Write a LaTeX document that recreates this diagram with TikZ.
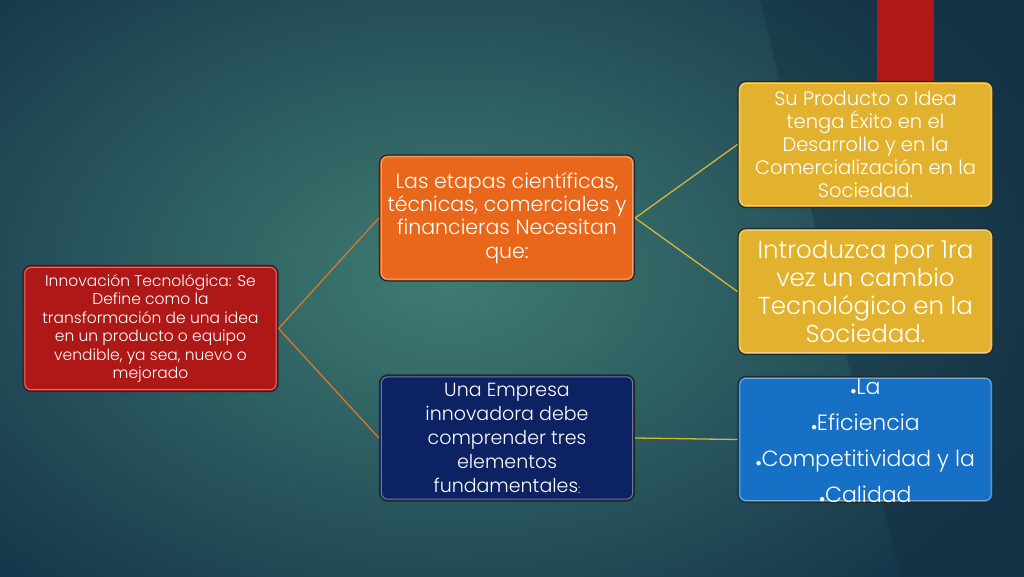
\documentclass[tikz,border=0pt]{standalone}
\usepackage{fontspec}
\setmainfont{Poppins}[UprightFont={* Light}]
\definecolor{bgin}{HTML}{3F7C72}
\definecolor{bgout}{HTML}{15354A}
\definecolor{cred}{HTML}{AE1817}
\definecolor{corange}{HTML}{E8671B}
\definecolor{cnavy}{HTML}{0D2263}
\definecolor{cyellow}{HTML}{E2B22E}
\definecolor{cblue}{HTML}{1570C6}
\definecolor{lorange}{HTML}{D9782A}
\definecolor{lyellow}{HTML}{D8B43A}
\definecolor{cborder}{HTML}{1E2A2C}
\tikzset{
  box/.style={draw=cborder, line width=1.2pt, rounded corners=8pt, minimum width=255pt, minimum height=126pt, inner sep=2pt, text=white, align=center},
  glow/.style={draw=white, opacity=0.4, line width=1pt, rounded corners=6pt},
  olink/.style={draw=lorange, line width=1.3pt},
  ylink/.style={draw=lyellow, line width=1.3pt}
}
\newcommand{\mybul}{\raisebox{0.05ex}{\scalebox{0.55}{$\bullet$}}}
\begin{document}
\begin{tikzpicture}[x=1pt,y=-1pt]
\useasboundingbox (0,0) rectangle (1024,576);
\shade[inner color=bgin, outer color=bgout] (-200,-150) rectangle (1100,700);
\fill[bgout!80!black, opacity=0.35] (1024,0) -- (1024,576) -- (900,576) -- (760,0) -- cycle;
\fill[cred] (877,0) rectangle (934,82);

\node[box, fill=cred, font=\fontsize{15.5}{18.5}\selectfont] (root) at (150.5,328.5)
  {Innovación Tecnológica: Se\\Define como la\\transformación de una idea\\en un producto o equipo\\vendible, ya sea, nuevo o\\mejorado};
\node[box, fill=corange, font=\fontsize{20.5}{23.3}\selectfont] (etapas) at (507,218)
  {Las etapas científicas,\\técnicas, comerciales y\\financieras Necesitan\\que:};
\node[box, fill=cnavy, font=\fontsize{19}{24}\selectfont] (empresa) at (507,438)
  {Una Empresa\\innovadora debe\\comprender tres\\elementos\\fundamentales\raisebox{-0.1ex}{\fontsize{12}{12}\selectfont :}};
\node[box, fill=cyellow, font=\fontsize{19.5}{23}\selectfont] (exito) at (865.5,144.5)
  {Su Producto o Idea\\tenga Éxito en el\\Desarrollo y en la\\Comercialización en la\\Sociedad.};
\node[box, fill=cyellow, font=\fontsize{24.5}{28}\selectfont] (cambio) at (865.5,291.5)
  {Introduzca por 1ra\\vez un cambio\\Tecnológico en la\\Sociedad.};
\node[box, fill=cblue] (elem) at (865.5,439.5) {};
\begin{scope}
  \clip[rounded corners=8pt] (elem.north west) rectangle (elem.south east);
  \node[text=white, align=center, font=\fontsize{22}{36}\selectfont, anchor=center] (elemtxt) at (865.5,441)
    {\mybul La\\\mybul Eficiencia\\\mybul Competitividad y la\\\mybul Calidad};
\end{scope}

\foreach \n in {root,etapas,empresa,exito,cambio,elem}{
  \draw[glow] ([shift={(2.5,2.5)}]\n.north west) rectangle ([shift={(-2.5,-2.5)}]\n.south east);
}

\draw[olink] (root.east) -- (etapas.west);
\draw[olink] (root.east) -- (empresa.west);
\draw[ylink] (etapas.east) -- (exito.west);
\draw[ylink] (etapas.east) -- (cambio.west);
\draw[ylink] (empresa.east) -- (elem.west);
\end{tikzpicture}
\end{document}
